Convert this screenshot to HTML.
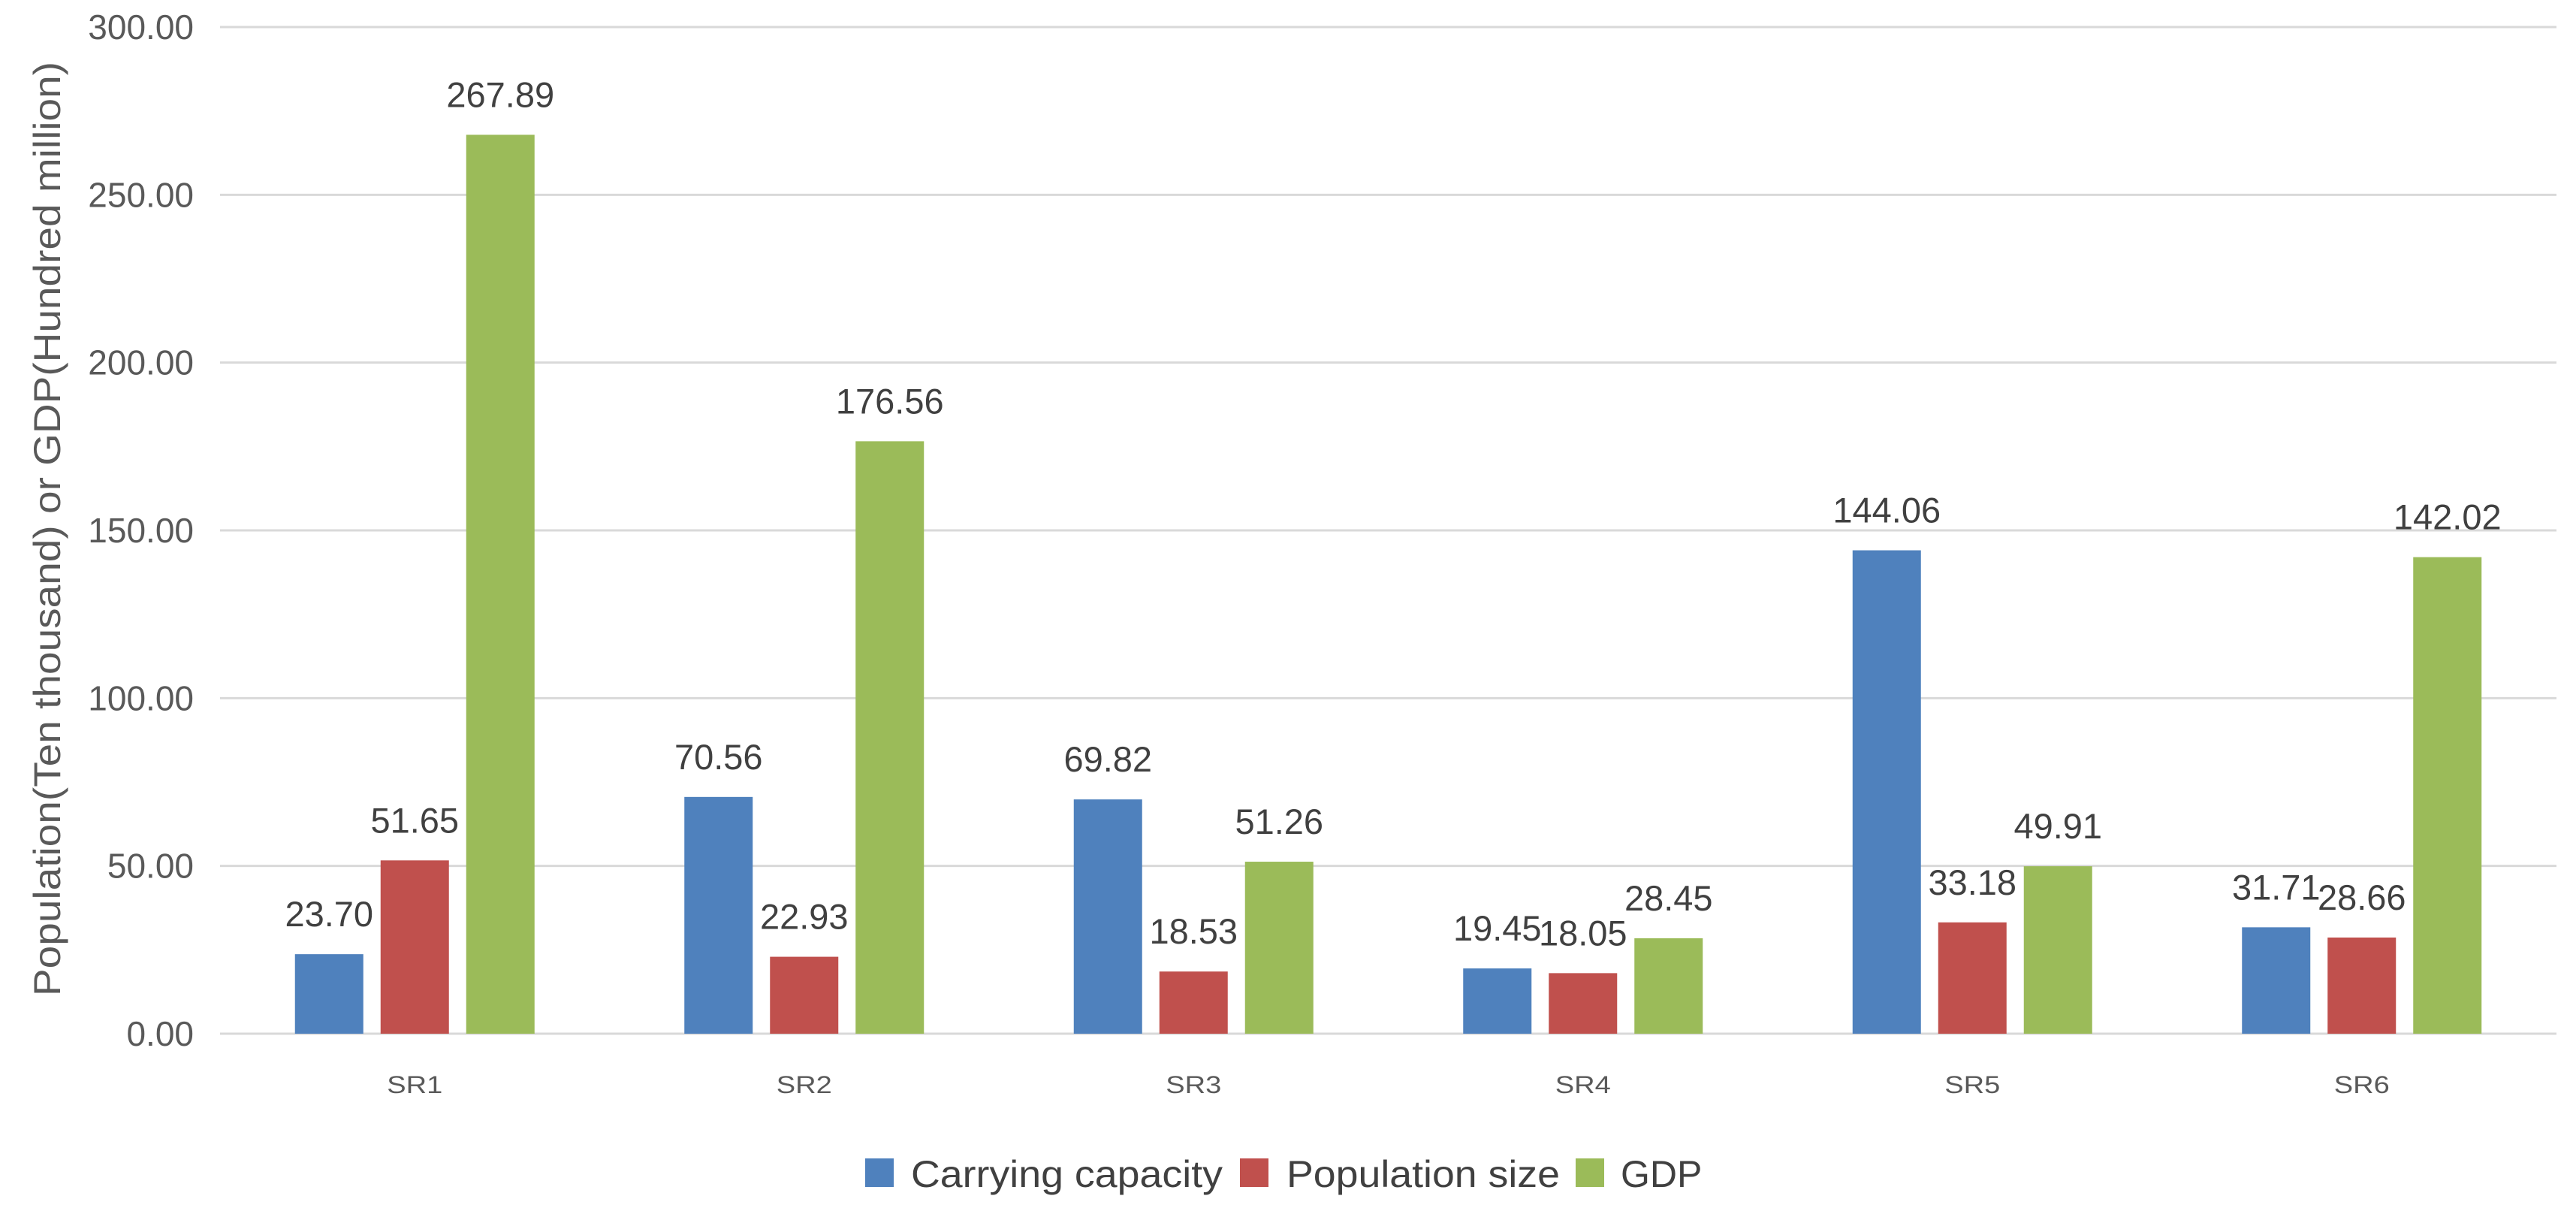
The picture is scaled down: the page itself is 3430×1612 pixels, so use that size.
<!DOCTYPE html>
<html><head><meta charset="utf-8"><style>
html,body{margin:0;padding:0;background:#fff;}
svg{display:block;font-family:"Liberation Sans",sans-serif;}
</style></head><body>
<svg id="chart" width="3430" height="1612" viewBox="0 0 3430 1612" xmlns="http://www.w3.org/2000/svg">
<g id="grid"></g>
<g id="yticks"></g>
<g id="bars"></g>
<g id="labels"></g>
<g id="cats"></g>
<text transform="translate(80,704) rotate(-90)" text-anchor="middle" font-size="50" fill="#595959" textLength="1244" lengthAdjust="spacingAndGlyphs">Population(Ten thousand) or GDP(Hundred million)</text>
<g>
<g><rect x="1152" y="1542" width="38" height="38" fill="#4f81bd"/><text x="1213" y="1580" font-size="50" fill="#404040" textLength="415" lengthAdjust="spacingAndGlyphs">Carrying capacity</text></g>
<g><rect x="1651" y="1542" width="38" height="38" fill="#c0504d"/><text x="1713" y="1580" font-size="50" fill="#404040" textLength="364" lengthAdjust="spacingAndGlyphs">Population size</text></g>
<g><rect x="2098" y="1542" width="38" height="38" fill="#9bbb59"/><text x="2158" y="1580" font-size="50" fill="#404040">GDP</text></g>
</g>
</svg>
<script>
const categories = ["SR1","SR2","SR3","SR4","SR5","SR6"];
const carryingCapacity = [23.70,70.56,69.82,19.45,144.06,31.71];
const populationSize = [51.65,22.93,18.53,18.05,33.18,28.66];
const gdp = [267.89,176.56,51.26,28.45,49.91,142.02];
const yTicks = [0,50,100,150,200,250,300];
const yTickLabels = ["0.00","50.00","100.00","150.00","200.00","250.00","300.00"];

const NS="http://www.w3.org/2000/svg";
const X0=293, X1=3404, Y0=1376, YTOP=36, YMAX=300;
const catW=(X1-X0)/categories.length;
function yScale(v){return Y0-(v/YMAX)*(Y0-YTOP);}
function xCat(i){return X0+catW*(i+0.5);}
function mk(tag,attrs,parent){const e=document.createElementNS(NS,tag);for(const k in attrs)e.setAttribute(k,attrs[k]);parent.appendChild(e);return e;}
const grid=document.getElementById('grid'),yt=document.getElementById('yticks'),bars=document.getElementById('bars'),labels=document.getElementById('labels'),cats=document.getElementById('cats');
yTicks.forEach((t,i)=>{
  const y=yScale(t);
  const l=mk('line',{x1:X0,x2:X1,y1:y,y2:y,stroke:'#d9d9d9','stroke-width':3},grid);
  
  
  const tx=mk('text',{x:258,y:y+16,'text-anchor':'end','font-size':46,fill:'#595959'},yt);
  tx.textContent=yTickLabels[i];
  
  
});
const series=[{vals:carryingCapacity,color:'#4f81bd',off:-114,name:'carrying-capacity'},{vals:populationSize,color:'#c0504d',off:0,name:'population-size'},{vals:gdp,color:'#9bbb59',off:114,name:'gdp'}];
const BW=91;
categories.forEach((c,i)=>{
  const cx=xCat(i);
  series.forEach(s=>{
    const v=s.vals[i], bx=cx+s.off-BW/2, by=yScale(v);
    const r=mk('rect',{x:bx,y:by,width:BW,height:Y0-by,fill:s.color},bars);
    
    
    const t=mk('text',{x:cx+s.off,y:by-37,'text-anchor':'middle','font-size':47,fill:'#404040'},labels);
    t.textContent=v.toFixed(2);
    
    
  });
  const ct=mk('text',{x:cx,y:1455,'text-anchor':'middle','font-size':32,fill:'#595959',textLength:74,lengthAdjust:'spacingAndGlyphs'},cats);
  ct.textContent=c;
  
  
});
</script>
</body></html>
